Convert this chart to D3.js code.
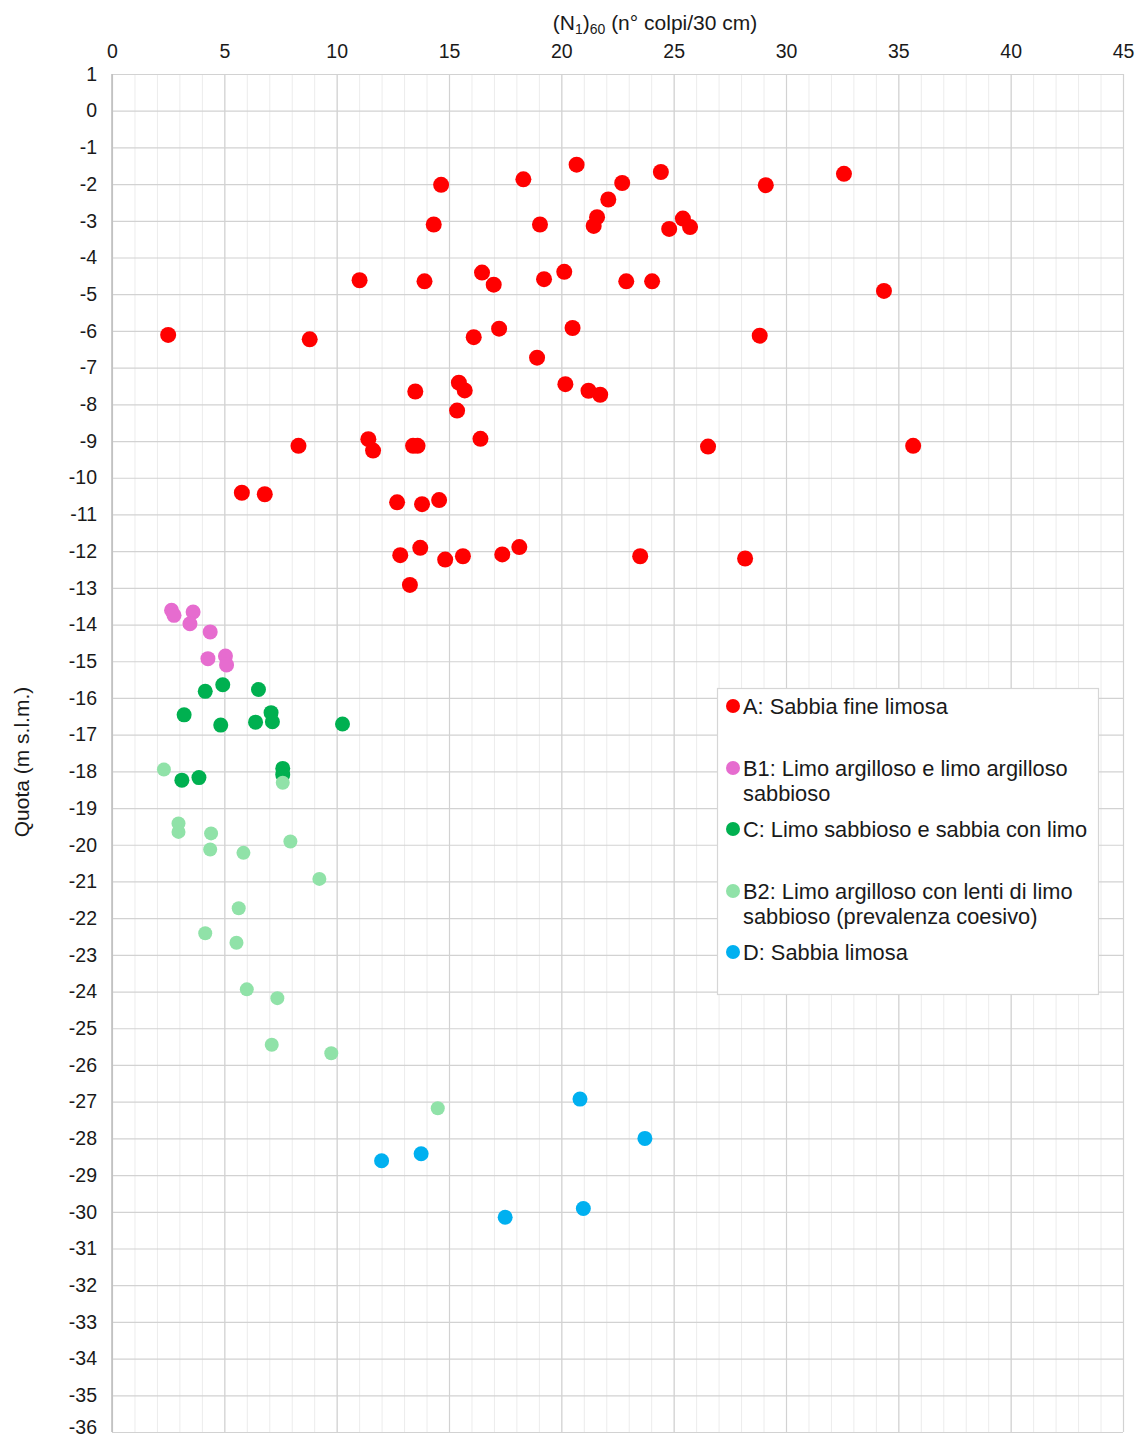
<!DOCTYPE html>
<html>
<head>
<meta charset="utf-8">
<script src="https://cdn.jsdelivr.net/npm/d3@7"></script>
<style>
  body { margin: 0; background: #fff; }
  svg { font-family: "Liberation Sans", Arial, sans-serif; }
</style>
</head>
<body>
<div id="chart"></div>
<script>
// x ticks and y ticks
const xTicks = [0, 5, 10, 15, 20, 25, 30, 35, 40, 45];
const yTicks = d3.range(1, -37, -1);

// A: Sabbia fine limosa
const aN = [20.68, 24.43, 32.58, 14.65, 18.31, 22.71, 29.1, 22.09, 14.32, 19.05,
  21.59, 21.44, 25.41, 24.8, 25.73, 11.02, 13.91, 16.47, 16.99, 19.23,
  20.13, 22.89, 24.04, 34.36, 2.5, 8.8, 16.1, 17.23, 20.5, 28.83,
  18.92, 13.5, 15.44, 15.7, 20.18, 21.21, 21.73, 15.36, 8.3, 11.41,
  11.62, 13.4, 13.6, 16.4, 26.53, 35.66, 5.78, 6.8, 12.69, 13.8,
  14.56, 12.83, 13.72, 14.83, 15.62, 17.37, 18.13, 23.51, 28.18, 13.26];
const aQ = [-1.47, -1.67, -1.72, -2.02, -1.87, -1.97, -2.03, -2.42, -3.1, -3.1,
  -2.9, -3.14, -2.94, -3.22, -3.17, -4.62, -4.65, -4.41, -4.74, -4.59,
  -4.39, -4.65, -4.65, -4.91, -6.11, -6.23, -6.17, -5.94, -5.92, -6.13,
  -6.73, -7.65, -7.41, -7.62, -7.45, -7.63, -7.74, -8.17, -9.13, -8.95,
  -9.26, -9.13, -9.13, -8.94, -9.15, -9.13, -10.41, -10.45, -10.67, -10.72,
  -10.61, -12.11, -11.91, -12.23, -12.14, -12.09, -11.89, -12.14, -12.2, -12.92];

// B1: Limo argilloso e limo argilloso sabbioso
const b1N = [2.65, 2.76, 3.61, 3.47, 4.37, 4.27, 5.05, 5.1];
const b1Q = [-13.61, -13.75, -13.66, -13.98, -14.2, -14.93, -14.86, -15.1];

// C: Limo sabbioso e sabbia con limo
const cN = [4.15, 4.93, 6.52, 3.21, 4.84, 6.39, 7.08, 7.14, 10.26, 3.11, 3.87, 7.6, 7.6];
const cQ = [-15.82, -15.64, -15.77, -16.46, -16.74, -16.66, -16.4, -16.65, -16.71, -18.24, -18.17, -17.92, -18.09];

// B2: Limo argilloso con lenti di limo sabbioso (prevalenza coesivo)
const b2N = [2.31, 7.6, 2.96, 2.96, 4.41, 4.37, 5.85, 7.94, 9.23, 5.64,
  4.15, 5.54, 6.0, 7.36, 7.11, 9.76, 14.5];
const b2Q = [-17.95, -18.31, -19.42, -19.65, -19.69, -20.13, -20.22, -19.91, -20.93, -21.73,
  -22.41, -22.67, -23.94, -24.18, -25.45, -25.68, -27.18];

// D: Sabbia limosa
const dN = [20.83, 23.72, 12.0, 13.76, 17.5, 20.98];
const dQ = [-26.93, -28.0, -28.61, -28.42, -30.15, -29.91];

const series = [
  { key: "A", label: ["A: Sabbia fine limosa"], color: "#ff0000", r: 8, n: aN, q: aQ },
  { key: "B1", label: ["B1: Limo argilloso e limo argilloso", "sabbioso"], color: "#e66ccf", r: 7.5, n: b1N, q: b1Q },
  { key: "C", label: ["C: Limo sabbioso e sabbia con limo"], color: "#00b050", r: 7.5, n: cN, q: cQ },
  { key: "B2", label: ["B2: Limo argilloso con lenti di limo", "sabbioso (prevalenza coesivo)"], color: "#90e2a8", r: 7, n: b2N, q: b2Q },
  { key: "D", label: ["D: Sabbia limosa"], color: "#00b0f0", r: 7.5, n: dN, q: dQ }
];

const W = 1136, H = 1441;
const margin = { top: 74, right: 13, bottom: 9, left: 112 };
const width = W - margin.left - margin.right;
const height = H - margin.top - margin.bottom;

const svg = d3.select("#chart").append("svg")
  .attr("width", W)
  .attr("height", H);

const chart = svg.append("g")
  .attr("transform", `translate(${margin.left},${margin.top})`);

const x = d3.scaleLinear().domain([0, 45]).range([0, width]);
const y = d3.scaleLinear().domain([1, -36]).range([0, height]);

// minor vertical gridlines
chart.append("g")
  .attr("class", "grid-minor")
  .call(d3.axisBottom(x).tickValues(d3.range(0, 46, 1)).tickSize(height).tickFormat(""))
  .call(g => g.select(".domain").remove())
  .call(g => g.selectAll("line").attr("stroke", "#ececec").attr("stroke-width", 1));

// major vertical gridlines
chart.append("g")
  .attr("class", "grid-x")
  .call(d3.axisBottom(x).tickValues(xTicks).tickSize(height).tickFormat(""))
  .call(g => g.select(".domain").remove())
  .call(g => g.selectAll("line").attr("stroke", "#d2d2d2").attr("stroke-width", 1.2));

// horizontal gridlines
chart.append("g")
  .attr("class", "grid-y")
  .call(d3.axisRight(y).tickValues(yTicks).tickSize(width).tickFormat(""))
  .call(g => g.select(".domain").remove())
  .call(g => g.selectAll("line").attr("stroke", "#d2d2d2").attr("stroke-width", 1.2));

// left axis line
chart.append("line")
  .attr("x1", 0).attr("x2", 0)
  .attr("y1", 0).attr("y2", height)
  .attr("stroke", "#bdbdbd")
  .attr("stroke-width", 1.5);

// top axis labels
chart.append("g")
  .call(d3.axisTop(x).tickValues(xTicks).tickSize(0).tickPadding(16).tickFormat(d => String(d)))
  .call(g => g.select(".domain").remove())
  .call(g => g.selectAll("text")
    .attr("font-family", "Liberation Sans, Arial, sans-serif")
    .attr("font-size", 19.5)
    .attr("fill", "#1a1a1a"));

// left axis labels (last one nudged up so it stays inside the page)
chart.append("g")
  .call(d3.axisLeft(y).tickValues(yTicks).tickSize(0).tickPadding(15).tickFormat(d => String(d)))
  .call(g => g.select(".domain").remove())
  .call(g => g.selectAll("text")
    .attr("font-family", "Liberation Sans, Arial, sans-serif")
    .attr("font-size", 19.5)
    .attr("fill", "#1a1a1a")
    .attr("dy", d => d === -36 ? "0.1em" : "0.32em"));

// x title
const xTitle = svg.append("text")
  .attr("x", 655)
  .attr("y", 30)
  .attr("text-anchor", "middle")
  .attr("font-size", 21)
  .attr("fill", "#1a1a1a");
xTitle.append("tspan").text("(N");
xTitle.append("tspan").text("1").attr("font-size", 14).attr("dy", 4);
xTitle.append("tspan").text(")").attr("dy", -4);
xTitle.append("tspan").text("60").attr("font-size", 14).attr("dy", 4);
xTitle.append("tspan").text(" (n° colpi/30 cm)").attr("dy", -4);

// y title
svg.append("text")
  .attr("transform", "translate(29,762) rotate(-90)")
  .attr("text-anchor", "middle")
  .attr("font-size", 21)
  .attr("fill", "#1a1a1a")
  .text("Quota (m s.l.m.)");

// points
series.forEach(s => {
  const pts = s.n.map((v, i) => ({ n: v, q: s.q[i] }));
  chart.append("g")
    .attr("class", "series-" + s.key)
    .selectAll("circle")
    .data(pts)
    .enter()
    .append("circle")
    .attr("cx", d => x(d.n))
    .attr("cy", d => y(d.q))
    .attr("r", s.r)
    .attr("fill", s.color);
});

// legend
const legend = svg.append("g").attr("class", "legend");
legend.append("rect")
  .attr("x", 717.5).attr("y", 688.5)
  .attr("width", 381).attr("height", 306)
  .attr("fill", "#fff")
  .attr("stroke", "#d6d6d6")
  .attr("stroke-width", 1.2);

const legendY = [706, 768, 829, 891, 952];
const legendItems = legend.selectAll(".legend-item")
  .data(series)
  .enter().append("g")
  .attr("class", "legend-item")
  .attr("transform", (d, i) => `translate(733,${legendY[i]})`);

legendItems.append("circle")
  .attr("r", 7)
  .attr("fill", d => d.color);

legendItems.append("text")
  .attr("x", 10)
  .attr("font-size", 21.8)
  .attr("fill", "#1a1a1a")
  .each(function (d) {
    const t = d3.select(this);
    d.label.forEach((line, i) => {
      t.append("tspan")
        .attr("x", 10)
        .attr("y", 7.5 + i * 25.5)
        .text(line);
    });
  });
</script>
</body>
</html>
